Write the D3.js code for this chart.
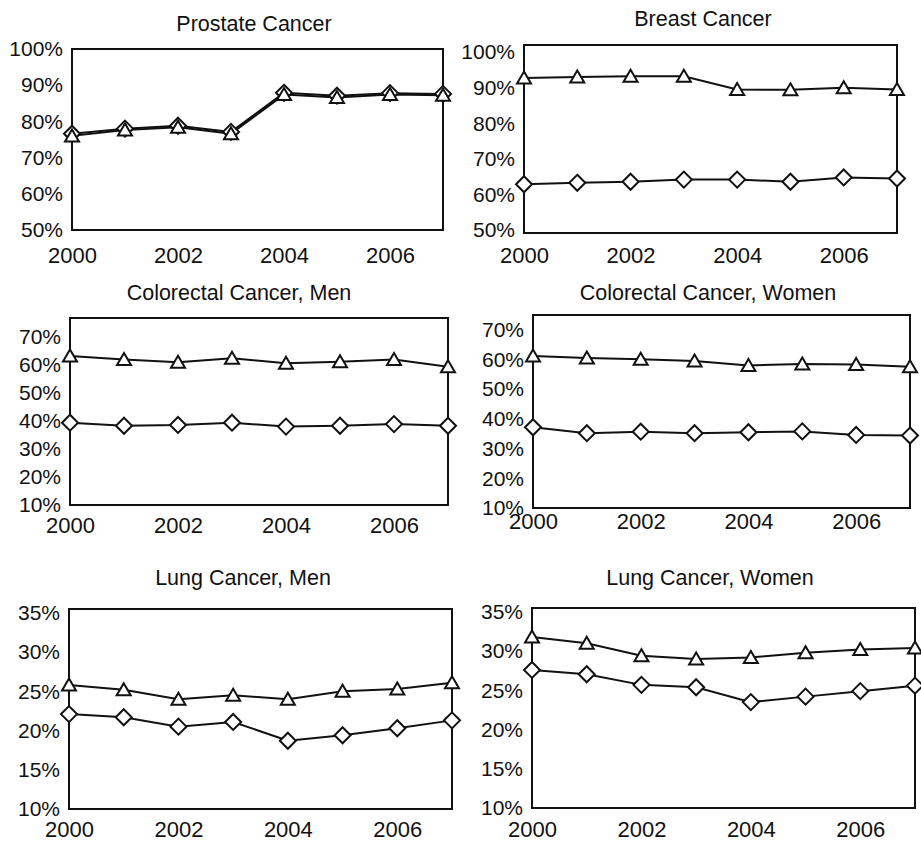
<!DOCTYPE html>
<html>
<head>
<meta charset="utf-8">
<script src="https://cdn.jsdelivr.net/npm/d3@7"></script>
<style>
  body { margin: 0; background: #fff; }
  svg { display: block; font-family: "Liberation Sans", Arial, sans-serif; }
</style>
</head>
<body>
<div id="chart"></div>
<script>
// survival-style percentages
const years = [2000, 2001, 2002, 2003, 2004, 2005, 2006, 2007];
const yearTicks = [2000, 2002, 2004, 2006];

const titles = [
  "Prostate Cancer", "Breast Cancer",
  "Colorectal Cancer, Men", "Colorectal Cancer, Women",
  "Lung Cancer, Men", "Lung Cancer, Women"
];

// triangle series
const prostateTri = [76.0, 77.6, 78.4, 76.6, 87.4, 86.6, 87.4, 87.2];
const breastTri = [92.7, 93.0, 93.2, 93.2, 89.5, 89.4, 90.0, 89.5];
const colorectalMenTri = [63.2, 62.0, 61.0, 62.4, 60.6, 61.2, 62.0, 59.4];
const colorectalWomenTri = [61.2, 60.5, 60.1, 59.5, 58.0, 58.5, 58.3, 57.6];
const lungMenTri = [25.8, 25.2, 24.0, 24.5, 24.0, 25.0, 25.3, 26.1];
const lungWomenTri = [31.8, 31.0, 29.4, 29.0, 29.2, 29.8, 30.2, 30.4];

// diamond series
const prostateDia = [76.6, 78.0, 78.8, 77.1, 87.9, 87.1, 87.8, 87.6];
const breastDia = [62.9, 63.3, 63.6, 64.2, 64.2, 63.6, 64.8, 64.5];
const colorectalMenDia = [39.4, 38.3, 38.6, 39.4, 38.0, 38.3, 38.9, 38.3];
const colorectalWomenDia = [37.2, 35.2, 35.7, 35.2, 35.5, 35.8, 34.6, 34.4];
const lungMenDia = [22.1, 21.7, 20.5, 21.1, 18.7, 19.4, 20.3, 21.3];
const lungWomenDia = [27.6, 27.05, 25.7, 25.4, 23.5, 24.2, 24.9, 25.6];

// y tick labels and the value range covered by each frame
const ticks50 = [50, 60, 70, 80, 90, 100];
const ticks10 = [10, 20, 30, 40, 50, 60, 70];
const ticksLung = [10, 15, 20, 25, 30, 35];
const frameRanges = [[50, 100], [49.2, 102], [10, 76.8], [10, 75], [10, 35.5], [10, 35.5]];

const panels = [
  { title: titles[0], tri: prostateTri, dia: prostateDia, ticks: ticks50, range: frameRanges[0] },
  { title: titles[1], tri: breastTri, dia: breastDia, ticks: ticks50, range: frameRanges[1] },
  { title: titles[2], tri: colorectalMenTri, dia: colorectalMenDia, ticks: ticks10, range: frameRanges[2] },
  { title: titles[3], tri: colorectalWomenTri, dia: colorectalWomenDia, ticks: ticks10, range: frameRanges[3] },
  { title: titles[4], tri: lungMenTri, dia: lungMenDia, ticks: ticksLung, range: frameRanges[4] },
  { title: titles[5], tri: lungWomenTri, dia: lungWomenDia, ticks: ticksLung, range: frameRanges[5] },
];

// pixel frame of each panel plus title anchor and x label baseline gap
const layout = [
  { left: 72, right: 443, top: 49, bottom: 230, tx: 254, ty: 31, xGap: 33 },
  { left: 524, right: 897, top: 45, bottom: 233, tx: 703, ty: 26, xGap: 30 },
  { left: 70, right: 448, top: 318, bottom: 505, tx: 239, ty: 300, xGap: 28 },
  { left: 533, right: 910, top: 315, bottom: 508, tx: 708, ty: 300, xGap: 21 },
  { left: 69, right: 452, top: 609, bottom: 809, tx: 243, ty: 585, xGap: 28 },
  { left: 532, right: 915, top: 608, bottom: 808, tx: 710, ty: 585, xGap: 29 },
];

const width = 921, height = 841;

const svg = d3.select("#chart").append("svg")
  .attr("width", width)
  .attr("height", height);

const triPath = "M0,-6.5L7,5.5L-7,5.5Z";
const diaPath = "M0,-8L8,0L0,8L-8,0Z";

panels.forEach((p, i) => {
  const L = layout[i];
  const g = svg.append("g");

  const x = d3.scaleLinear().domain([2000, 2007]).range([L.left, L.right]);
  const y = d3.scaleLinear().domain(p.range).range([L.bottom, L.top]);

  g.append("text")
    .attr("x", L.tx)
    .attr("y", L.ty)
    .attr("text-anchor", "middle")
    .attr("font-size", 21.5)
    .attr("fill", "#111")
    .text(p.title);

  g.append("rect")
    .attr("x", L.left)
    .attr("y", L.top)
    .attr("width", L.right - L.left)
    .attr("height", L.bottom - L.top)
    .attr("fill", "none")
    .attr("stroke", "#111")
    .attr("stroke-width", 2);

  const yAxis = g.append("g")
    .attr("transform", `translate(${L.left},0)`)
    .call(d3.axisLeft(y).tickValues(p.ticks).tickSize(0).tickPadding(9).tickFormat(d => d + "%"));
  yAxis.select(".domain").remove();
  yAxis.selectAll("text")
    .attr("font-size", 21)
    .attr("font-family", null)
    .attr("fill", "#111");

  const xAxis = g.append("g")
    .attr("transform", `translate(0,${L.bottom})`)
    .call(d3.axisBottom(x).tickValues(yearTicks).tickSize(0).tickFormat(d3.format("d")));
  xAxis.select(".domain").remove();
  xAxis.selectAll("text")
    .attr("font-size", 22)
    .attr("font-family", null)
    .attr("fill", "#111")
    .attr("dy", null)
    .attr("y", L.xGap);

  const line = d3.line()
    .x((d, k) => x(years[k]))
    .y(d => y(d));

  [p.dia, p.tri].forEach(series => {
    g.append("path")
      .datum(series)
      .attr("fill", "none")
      .attr("stroke", "#111")
      .attr("stroke-width", 2)
      .attr("d", line);
  });

  g.selectAll(".dia")
    .data(p.dia)
    .join("path")
    .attr("class", "dia")
    .attr("d", diaPath)
    .attr("transform", (d, k) => `translate(${x(years[k])},${y(d)})`)
    .attr("fill", "#fff")
    .attr("stroke", "#111")
    .attr("stroke-width", 2);

  g.selectAll(".tri")
    .data(p.tri)
    .join("path")
    .attr("class", "tri")
    .attr("d", triPath)
    .attr("transform", (d, k) => `translate(${x(years[k])},${y(d)})`)
    .attr("fill", "#fff")
    .attr("stroke", "#111")
    .attr("stroke-width", 2);
});
</script>
</body>
</html>
